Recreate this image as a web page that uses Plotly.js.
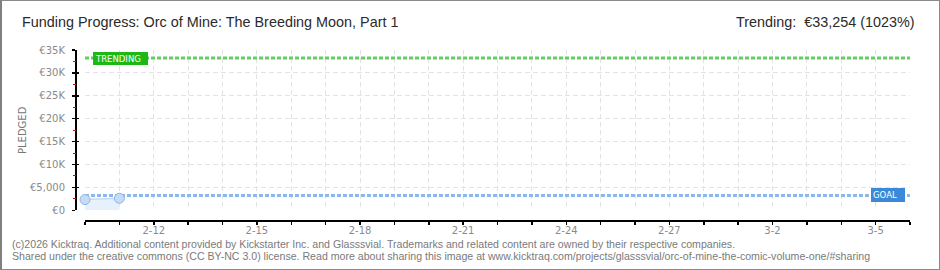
<!DOCTYPE html>
<html>
<head>
<meta charset="utf-8">
<script src="https://cdn.plot.ly/plotly-3.0.1.min.js"></script>
<style>
  html, body { margin: 0; padding: 0; background: #fff; }
  #wrap { position: relative; width: 940px; height: 270px; }
  #chart { width: 940px; height: 270px; }
  #frame { position: absolute; left: 0; top: 0; width: 940px; height: 270px; box-sizing: border-box;
           border: 1px solid #8a8a8a; border-left: 2px solid #808080; pointer-events: none; }
</style>
</head>
<body>
<div id="wrap"><div id="chart"></div><div id="frame"></div></div>
<script>
// ---- data ----
const pledgedDates = ['2026-02-10', '2026-02-11'];
const pledgedValues = [2340, 2625];
const goalValue = 3250;
const trendingValue = 33254;
const rangeDates = ['2026-02-10', '2026-03-06'];
const dayTicks = ['2026-02-10','2026-02-11','2026-02-12','2026-02-13','2026-02-14','2026-02-15','2026-02-16','2026-02-17',
  '2026-02-18','2026-02-19','2026-02-20','2026-02-21','2026-02-22','2026-02-23','2026-02-24','2026-02-25','2026-02-26',
  '2026-02-27','2026-02-28','2026-03-01','2026-03-02','2026-03-03','2026-03-04','2026-03-05','2026-03-06'];
const dayLabels = ['','','2-12','','','2-15','','','2-18','','','2-21','','','2-24','','','2-27','','','3-2','','','3-5',''];
const yTickVals = [0, 5000, 10000, 15000, 20000, 25000, 30000, 35000];
const yTickText = ['€0', '€5,000', '€10K', '€15K', '€20K', '€25K', '€30K', '€35K'];
const yMinorVals = [2500, 7500, 12500, 17500, 22500, 27500, 32500];
const titleText = 'Funding Progress: Orc of Mine: The Breeding Moon, Part 1';
const trendText = 'Trending: &nbsp;€33,254 (1023%)';
const footer1 = '(c)2026 Kicktraq. Additional content provided by Kickstarter Inc. and Glasssvial. Trademarks and related content are owned by their respective companies.';
const footer2 = 'Shared under the creative commons (CC BY-NC 3.0) license. Read more about sharing this image at www.kicktraq.com/projects/glasssvial/orc-of-mine-the-comic-volume-one/#sharing';

// ---- layout helpers (pixel -> paper) ----
const W = 940, H = 270, ML = 76, MR = 30, MT = 50, MB = 49;
const PW = W - ML - MR, PH = H - MT - MB;
const px = p => (p - ML) / PW;
const py = q => (H - MB - q) / PH;

const tickFont = { family: 'DejaVu Sans, sans-serif', size: 10, color: '#8a8a8a' };
const gridCol = '#e3e3e3';
const yDomain = [10.7 / PH, 1];

const traces = [
  { x: rangeDates, y: [trendingValue, trendingValue], mode: 'lines', hoverinfo: 'skip',
    line: { color: '#62cf62', width: 3, dash: '4px,2px' } },
  { x: rangeDates, y: [goalValue, goalValue], mode: 'lines', hoverinfo: 'skip',
    line: { color: '#8cb8ea', width: 3, dash: '4px,2px' } },
  { x: pledgedDates, y: pledgedValues, mode: 'lines+markers', fill: 'tozeroy', cliponaxis: false,
    fillcolor: 'rgba(226,238,252,0.85)', line: { color: '#c5dbf5', width: 1.5 },
    marker: { size: 10, color: '#c6dcf6', line: { color: '#8fb5e4', width: 1 } } },
  // carriers for the overlay axes (minor red ticks, inner half of major ticks)
  { x: rangeDates, y: [goalValue, goalValue], yaxis: 'y2', mode: 'lines', line: { width: 0 }, hoverinfo: 'skip', opacity: 0 },
  { x: rangeDates, y: [goalValue, goalValue], yaxis: 'y3', mode: 'lines', line: { width: 0 }, hoverinfo: 'skip', opacity: 0 }
];

const layout = {
  width: W, height: H, showlegend: false,
  margin: { l: ML, r: MR, t: MT, b: MB, pad: 0 },
  paper_bgcolor: '#fff', plot_bgcolor: '#fff',
  xaxis: {
    type: 'date', range: rangeDates, domain: [9 / PW, 1],
    anchor: 'free', position: 0,
    tickmode: 'array', tickvals: dayTicks, ticktext: dayLabels,
    ticks: 'outside', ticklen: 3, tickwidth: 1.5, tickcolor: '#000',
    showline: true, linecolor: '#000', linewidth: 2,
    showgrid: true, gridcolor: gridCol, griddash: '5px,3px', gridwidth: 1,
    zeroline: false, tickfont: tickFont, ticklabelstandoff: -3, fixedrange: true
  },
  yaxis: {
    range: [0, 35000], domain: yDomain,
    anchor: 'free', position: 0,
    tickmode: 'array', tickvals: yTickVals, ticktext: yTickText,
    ticks: 'outside', ticklen: 3, tickwidth: 1.5, tickcolor: '#000',
    showline: true, linecolor: '#000', linewidth: 2,
    showgrid: true, gridcolor: gridCol, griddash: '5px,3px', gridwidth: 1,
    zeroline: false, tickfont: tickFont, ticklabelstandoff: 5, fixedrange: true
  },
  yaxis2: {
    range: [0, 35000], domain: yDomain, overlaying: 'y', anchor: 'free', position: 0, side: 'left',
    tickmode: 'array', tickvals: yMinorVals, showticklabels: false,
    ticks: 'outside', ticklen: 3, tickwidth: 1, tickcolor: '#e00000',
    showline: false, showgrid: false, zeroline: false, fixedrange: true
  },
  yaxis3: {
    range: [0, 35000], domain: yDomain, overlaying: 'y', anchor: 'free', position: 0, side: 'left',
    tickmode: 'array', tickvals: yTickVals, showticklabels: false,
    ticks: 'inside', ticklen: 2, tickwidth: 1.5, tickcolor: '#000',
    showline: false, showgrid: false, zeroline: false, fixedrange: true
  },
  annotations: [
    { xref: 'paper', yref: 'paper', x: px(20), y: py(22), xanchor: 'left', yanchor: 'middle',
      text: titleText, showarrow: false, font: { family: 'Liberation Sans, sans-serif', size: 14.4, color: '#2a2a2a' } },
    { xref: 'paper', yref: 'paper', x: px(917), y: py(22), xanchor: 'right', yanchor: 'middle',
      text: trendText, showarrow: false, font: { family: 'Liberation Sans, sans-serif', size: 14.4, color: '#2a2a2a' } },
    { xref: 'paper', yref: 'paper', x: px(22), y: py(130), xanchor: 'center', yanchor: 'middle', textangle: -90,
      text: 'PLEDGED', showarrow: false, font: { family: 'DejaVu Sans, sans-serif', size: 10, color: '#777' } },
    { xref: 'paper', yref: 'y', x: px(93), y: trendingValue, xanchor: 'left', yanchor: 'middle',
      text: 'TRENDING', showarrow: false, align: 'left', width: 51, height: 9,
      bgcolor: '#1db814', bordercolor: '#1db814', borderwidth: 1, borderpad: 1,
      font: { family: 'DejaVu Sans, sans-serif', size: 8.5, color: '#fff' } },
    { xref: 'paper', yref: 'y', x: px(871), y: goalValue, xanchor: 'left', yanchor: 'middle',
      text: 'GOAL', showarrow: false, align: 'left', width: 30, height: 10,
      bgcolor: '#3b89d9', bordercolor: '#3b89d9', borderwidth: 1, borderpad: 1,
      font: { family: 'DejaVu Sans, sans-serif', size: 8.5, color: '#fff' } },
    { xref: 'paper', yref: 'paper', x: px(10), y: py(243.5), xanchor: 'left', yanchor: 'middle',
      text: footer1, showarrow: false, font: { family: 'Liberation Sans, sans-serif', size: 10.6, color: '#7a7a7a' } },
    { xref: 'paper', yref: 'paper', x: px(10), y: py(256), xanchor: 'left', yanchor: 'middle',
      text: footer2, showarrow: false, font: { family: 'Liberation Sans, sans-serif', size: 10.6, color: '#7a7a7a' } }
  ]
};

Plotly.newPlot('chart', traces, layout, { staticPlot: true, displayModeBar: false });
</script>
</body>
</html>
